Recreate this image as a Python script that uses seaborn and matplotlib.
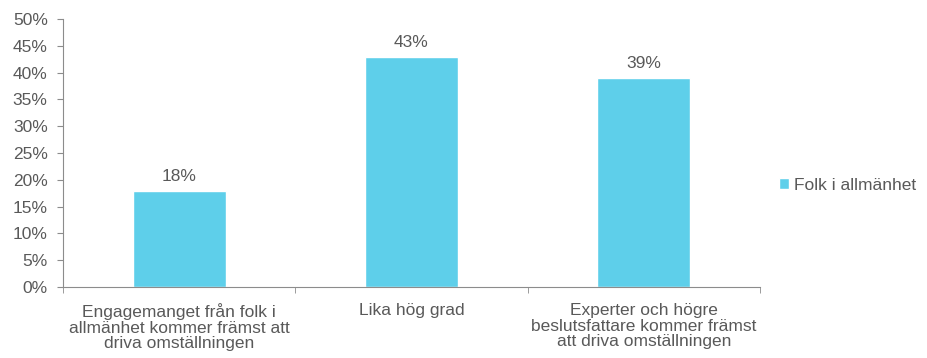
import numpy as np
import pandas as pd
import seaborn as sns
import matplotlib.pyplot as plt
from matplotlib.ticker import MultipleLocator, FuncFormatter, FixedLocator

sns.set_style("white")
plt.rcParams['font.family'] = ['Liberation Sans', 'DejaVu Sans']

# data
kategorier = ["Engagemanget från folk i\nallmänhet kommer främst att\ndriva omställningen",
              "Lika hög grad",
              "Experter och högre\nbeslutsfattare kommer främst\natt driva omställningen"]
andel = [18, 43, 39]
serie = "Folk i allmänhet"

df = pd.DataFrame({"kategori": kategorier, "andel": andel, "serie": serie})

farg = "#5ECFEA"
gra = "#595959"
fs = 12.5

fig = plt.figure(figsize=(9.27, 3.58), dpi=100)
ax = fig.add_axes([63 / 927, 1 - 287 / 358, (760 - 63) / 927, (287 - 19) / 358])

sns.barplot(data=df, x="kategori", y="andel", hue="serie", palette=[farg],
            width=0.4, ax=ax, saturation=1)

for c in ax.containers:
    ax.bar_label(c, labels=[f"{v:.0f}%" for v in c.datavalues], padding=5,
                 fontsize=fs, color=gra)

ax.set_ylim(0, 50)
ax.set_xlim(-0.5, 2.5)
ax.yaxis.set_major_locator(MultipleLocator(5))
ax.yaxis.set_major_formatter(FuncFormatter(lambda v, p: f"{v:.0f}%"))
ax.set_xlabel("")
ax.set_ylabel("")

for s in ["top", "right"]:
    ax.spines[s].set_visible(False)
for s in ["left", "bottom"]:
    ax.spines[s].set_color("#8c8c8c")
    ax.spines[s].set_linewidth(0.8)

ax.tick_params(axis="y", left=True, length=4, color="#8c8c8c", labelsize=fs,
               labelcolor=gra, pad=7)
ax.tick_params(axis="x", bottom=False, labelsize=fs, labelcolor=gra, pad=8)
for t in ax.get_xticklabels():
    t.set_linespacing(1.05)
ax.xaxis.set_minor_locator(FixedLocator([-0.5, 0.5, 1.5, 2.5]))
ax.tick_params(axis="x", which="minor", bottom=True, length=4, color="#8c8c8c")

ax.legend(loc="center left", bbox_to_anchor=(1.005, 0.38), frameon=False,
          fontsize=fs, labelcolor=gra, handlelength=0.55, handleheight=0.55,
          handletextpad=0.3)

fig.savefig("out.png", dpi=100)
